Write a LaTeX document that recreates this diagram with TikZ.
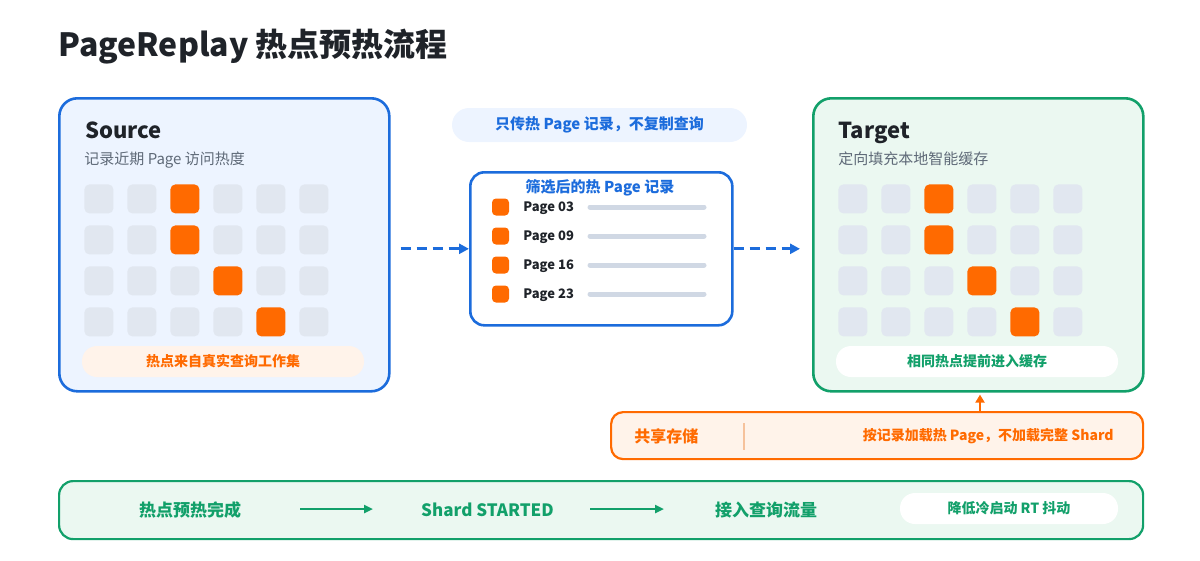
\documentclass[tikz,border=0pt]{standalone}
\usepackage{fontspec}
\setmainfont{Noto Sans CJK SC}
\usetikzlibrary{arrows.meta,positioning}

\begin{document}
\begin{tikzpicture}[x=1pt, y=-1pt, thick]
	\definecolor{ink}{RGB}{31, 35, 41}
	\definecolor{subgray}{RGB}{95, 106, 120}
	\definecolor{srcblue}{RGB}{28, 108, 220}
	\definecolor{srcfill}{RGB}{237, 244, 255}
	\definecolor{tgtgreen}{RGB}{18, 160, 106}
	\definecolor{tgtfill}{RGB}{235, 248, 241}
	\definecolor{hot}{RGB}{255, 106, 0}
	\definecolor{hotfill}{RGB}{255, 243, 234}
	\definecolor{cellgray}{RGB}{225, 231, 240}
	\definecolor{bargray}{RGB}{208, 216, 228}
	\definecolor{divider}{RGB}{246, 194, 156}

	\tikzset{
		card/.style={draw, line width=2.6pt, rounded corners=18pt, anchor=north west, inner sep=0pt},
		cell/.style={rounded corners=5pt, minimum size=29pt, inner sep=0pt, anchor=north west},
		pill/.style={rounded corners=15pt, inner sep=0pt, font=\bfseries\fontsize{14}{16}\selectfont},
		heading/.style={anchor=base west, inner sep=0pt, text=ink, font=\bfseries\fontsize{22}{26}\selectfont},
		subline/.style={anchor=base west, inner sep=0pt, text=subgray, font=\fontsize{15}{18}\selectfont},
		flowarrow/.style={draw=srcblue, line width=3pt, dash pattern=on 10pt off 6pt, -{Triangle[length=10pt, width=10pt]}},
		steparrow/.style={draw=tgtgreen, line width=2.5pt, -{Triangle[length=9pt, width=8pt]}},
		steptext/.style={text=tgtgreen, font=\bfseries\fontsize{17}{20}\selectfont}
	}

	% \drawgrid#x#y#prefix
	\def\drawgrid#1#2#3{
		\foreach \r/\h in {0/2, 1/2, 2/3, 3/4}
			\foreach \c in {0,...,5} {
				\ifnum\c=\h \def\cellcol{hot}\else \def\cellcol{cellgray}\fi
				\node[cell, fill=\cellcol] (#3-\r-\c) at (#1 + 43*\c, #2 + 41*\r) {};
			}
	}

	\useasboundingbox (0, 0) rectangle (1200, 560);

	% title
	\node[anchor=west, inner sep=0pt, text=ink, font=\bfseries\fontsize{32}{38}\selectfont] (title) at (58, 47) {PageReplay 热点预热流程};

	% source
	\node[card, draw=srcblue, fill=srcfill, minimum width=330pt, minimum height=293pt] (src) at (58, 97) {};
	\node[heading] (src-head) at (85, 138) {Source};
	\node[subline] (src-sub) at (84, 164) {记录近期 Page 访问热度};
	\drawgrid{84}{184}{sg}
	\node[pill, fill=hotfill, text=hot, minimum width=282pt, minimum height=31pt] (src-note) at (223, 361.5) {热点来自真实查询工作集};

	% records in transit
	\node[pill, fill=srcfill, text=srcblue, rounded corners=17pt, minimum width=295pt, minimum height=34pt, font=\bfseries\fontsize{15}{18}\selectfont] (note) at (599.5, 125) {只传热 Page 记录，不复制查询};
	\node[card, draw=srcblue, fill=white, rounded corners=14pt, minimum width=262pt, minimum height=153pt] (mid) at (469, 171) {};
	\node[text=srcblue, inner sep=0pt, font=\bfseries\fontsize{15}{17}\selectfont] (mid-head) at (600, 188) {筛选后的热 Page 记录};
	\foreach \i/\p in {0/03, 1/09, 2/16, 3/23} {
		\node[fill=hot, rounded corners=4pt, minimum size=17pt, inner sep=0pt] (dot-\i) at (500.5, 207 + 29*\i) {};
		\node[anchor=west, inner sep=0pt, text=ink, font=\bfseries\fontsize{13}{15}\selectfont] (pg-\i) at (523, 208 + 29*\i) {Page \p};
		\draw[bargray, line width=5pt, line cap=round] (590, 207 + 29*\i) -- (704, 207 + 29*\i);
	}

	% target
	\node[card, draw=tgtgreen, fill=tgtfill, minimum width=330pt, minimum height=293pt] (tgt) at (812, 97) {};
	\node[heading] (tgt-head) at (838, 138) {Target};
	\node[subline] (tgt-sub) at (838, 164) {定向填充本地智能缓存};
	\drawgrid{838}{184}{tg}
	\node[pill, fill=white, text=tgtgreen, minimum width=282pt, minimum height=31pt] (tgt-note) at (977, 361.5) {相同热点提前进入缓存};

	% dashed flow
	\draw[flowarrow, shorten <=10pt] (src.east |- mid.west) -- (mid.west);
	\draw[flowarrow, shorten >=12pt] (mid.east) -- (mid.east -| tgt.west);

	% shared storage
	\node[card, draw=hot, fill=hotfill, rounded corners=12pt, line width=2.2pt, minimum width=532pt, minimum height=47pt] (store) at (610, 411) {};
	\node[anchor=west, inner sep=0pt, text=hot, font=\bfseries\fontsize{16}{19}\selectfont] (store-head) at (634, 436) {共享存储};
	\draw[divider, line width=1.5pt] (744, 423) -- (744, 450);
	\node[anchor=east, inner sep=0pt, text=hot, font=\bfseries\fontsize{14}{16}\selectfont] (store-text) at (1114, 436) {按记录加载热 Page，不加载完整 Shard};
	\coordinate (up-foot) at (980, 411);
	\draw[draw=hot, line width=2.5pt, -{Triangle[length=8pt, width=9pt]}, shorten >=2pt] (up-foot) -- (up-foot |- tgt.south);

	% startup steps
	\node[card, draw=tgtgreen, fill=tgtfill, rounded corners=14pt, line width=2.2pt, minimum width=1084pt, minimum height=58pt] (bar) at (58, 480) {};
	\node[steptext] (step-1) at (190, 510) {热点预热完成};
	\node[steptext] (step-2) at (487.5, 510) {Shard STARTED};
	\node[steptext] (step-3) at (766, 510) {接入查询流量};
	\coordinate (a1) at (300, 509);
	\coordinate (b1) at (373, 509);
	\coordinate (a2) at (590, 509);
	\coordinate (b2) at (664, 509);
	\draw[steparrow] (a1) -- (b1);
	\draw[steparrow] (a2) -- (b2);
	\node[pill, fill=white, text=tgtgreen, minimum width=218pt, minimum height=31pt] (gain) at (1009, 508.5) {降低冷启动 RT 抖动};
\end{tikzpicture}
\end{document}
